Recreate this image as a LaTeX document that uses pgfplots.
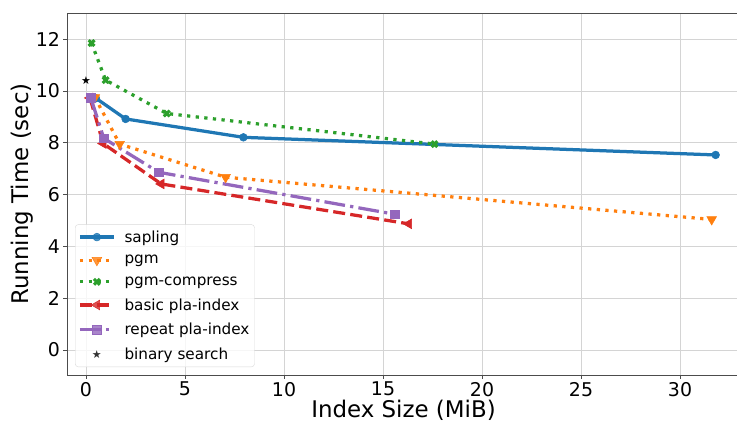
\documentclass[border=0pt]{standalone}
\usepackage{fontspec}
\setmainfont{DejaVu Sans}
\newfontfamily\symfont{DejaVu Sans}
\usepackage{pgfplots}
\pgfplotsset{compat=1.18}
\definecolor{tabblue}{HTML}{1F77B4}
\definecolor{taborange}{HTML}{FF7F0E}
\definecolor{tabgreen}{HTML}{2CA02C}
\definecolor{tabred}{HTML}{D62728}
\definecolor{tabpurple}{HTML}{9467BD}
\pgfplotsset{
  linelegend/.style={legend image code/.code={\draw[mark repeat=2,mark phase=2,##1] plot coordinates {(0bp,0bp) (17bp,0bp) (34bp,0bp)};\path (41bp,0bp);}},
  starlegend/.style={legend image code/.code={\draw[##1] plot coordinates {(17bp,0bp)};\path (0bp,0bp) (41bp,0bp);}},
}
\begin{document}
\begin{tikzpicture}
\begin{axis}[
  scale only axis, width=673bp, height=362bp,
  xmin=-0.96, xmax=33.03, ymin=-0.965, ymax=13.01,
  xtick={0,5,10,15,20,25,30}, ytick={0,2,4,6,8,10,12},
  xtick pos=bottom, ytick pos=left,
  tick align=outside, major tick length=3.5bp,
  tick style={black!70, line width=0.8bp},
  axis line style={black!70, line width=0.8bp},
  grid=major, major grid style={black!17, line width=0.8bp},
  /pgf/number format/assume math mode=true,
  ticklabel style={font=\fontsize{19}{22}\selectfont},
  every axis x label/.style={at={(axis description cs:0.5,-0.0967)}, anchor=center, inner sep=0pt},
  every axis y label/.style={at={(axis description cs:-0.067,0.5)}, rotate=90, anchor=center, inner sep=0pt},
  label style={font=\fontsize{23}{27}\selectfont},
  xlabel={Index Size (MiB)}, ylabel={Running Time (sec)},
  legend cell align=left,
  legend style={at={(axis description cs:0.012,0.022)}, anchor=south west,
    font=\fontsize{15.3}{18}\selectfont, draw=black!15, rounded corners=3bp,
    fill=white, fill opacity=0.8, text opacity=1, inner xsep=3bp, inner ysep=4bp,
    row sep=7.6bp},
]
\addplot[tabblue, linelegend, line width=3.25bp, mark=*, mark size=3.9bp, mark options={solid, line width=0.5bp}]
  coordinates {(0.5,9.72) (2,8.92) (7.95,8.21) (31.8,7.53)};
\addlegendentry{sapling}
\addplot[taborange, linelegend, line width=3.25bp, dash pattern=on 3.25bp off 5.4bp, mark=triangle*, mark size=5.6bp, mark options={solid, rotate=180, line width=0.5bp}]
  coordinates {(0.45,9.75) (1.7,7.95) (7.05,6.67) (31.6,5.04)};
\addlegendentry{pgm}
\addplot[tabgreen, linelegend, line width=3.25bp, dash pattern=on 3.25bp off 5.4bp, mark=x, mark size=4.1bp, mark options={solid, line width=3.1bp}]
  coordinates {(0.28,11.85) (0.99,10.42) (4.08,9.13) (17.6,7.95)};
\addlegendentry{pgm-compress}
\addplot[tabred, linelegend, line width=3.25bp, dash pattern=on 12bp off 5.2bp, mark=triangle*, mark size=5.6bp, mark options={solid, rotate=90, line width=0.5bp}]
  coordinates {(0.2,9.73) (0.87,7.97) (3.8,6.41) (16.3,4.87)};
\addlegendentry{basic pla-index}
\addplot[tabpurple, linelegend, line width=3.25bp, dash pattern=on 20.8bp off 5.2bp on 3.25bp off 5.2bp, mark=square*, mark size=4.3bp, mark options={solid, line width=0.5bp}]
  coordinates {(0.24,9.74) (0.9,8.17) (3.68,6.86) (15.6,5.24)};
\addlegendentry{repeat pla-index}
\addplot[black, only marks, starlegend, mark=text, text mark={\fontsize{11}{11}\selectfont\symfont ★}]
  coordinates {(0,10.42)};
\addlegendentry{binary search}
\coordinate (bl) at (rel axis cs:0,0);
\coordinate (tr) at (rel axis cs:1,1);
\end{axis}
\pgfresetboundingbox
\path[use as bounding box] ([shift={(-67bp,-48bp)}]bl) rectangle ([shift={(670bp,13bp)}]bl |- tr);
\end{tikzpicture}
\end{document}
